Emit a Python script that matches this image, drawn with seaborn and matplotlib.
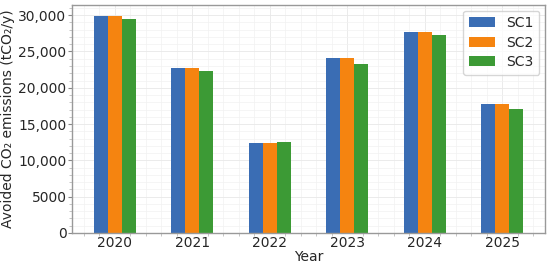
import pandas as pd
import matplotlib
matplotlib.use("Agg")
import matplotlib.pyplot as plt
import seaborn as sns
from matplotlib.ticker import AutoMinorLocator, MultipleLocator, FixedLocator

# values (tCO2/y)
years = ["2020", "2021", "2022", "2023", "2024", "2025"]
sc1 = [29900, 22700, 12430, 24040, 27700, 17700]
sc2 = [29900, 22700, 12430, 24040, 27700, 17700]
sc3 = [29490, 22250, 12570, 23210, 27200, 17020]
scenarios = ["SC1", "SC2", "SC3"]
colors = ["#3a6db4", "#f58410", "#3c9a35"]
ytick_values = [0, 5000, 10000, 15000, 20000, 25000, 30000]
ytick_labels = ["0", "5000", "10,000", "15,000", "20,000", "25,000", "30,000"]

rows = []
for name, vals in zip(scenarios, [sc1, sc2, sc3]):
    for y, v in zip(years, vals):
        rows.append({"Year": y, "Scenario": name, "Value": v})
df = pd.DataFrame(rows)

sns.set_style("whitegrid")
plt.rcParams['font.family'] = ['DejaVu Sans']

fig, ax = plt.subplots(figsize=(5.5, 2.66), dpi=100)
fig.subplots_adjust(left=72 / 550, right=545 / 550, top=1 - 5 / 266, bottom=1 - 233 / 266)

sns.barplot(data=df, x="Year", y="Value", hue="Scenario", palette=colors,
            width=0.54, gap=0, ax=ax, saturation=1, linewidth=0)

ax.set_xlim(-0.55, 5.55)
ax.set_ylim(0, 31400)
ax.yaxis.set_major_locator(FixedLocator(ytick_values))
ax.set_yticklabels(ytick_labels)
ax.xaxis.set_minor_locator(MultipleLocator(0.2))
ax.yaxis.set_minor_locator(AutoMinorLocator(5))
ax.grid(True, which="major", color="#e8e8e8", linewidth=0.6)
ax.grid(True, which="minor", color="#f2f2f2", linewidth=0.5)
ax.set_axisbelow(True)

ax.tick_params(axis="both", which="major", labelsize=10, length=3, color="#888888", pad=1)
ax.tick_params(axis="both", which="minor", length=2, color="#bbbbbb")
ax.tick_params(axis="x", which="major", length=0, pad=2)
ax.tick_params(left=True, bottom=True, which="both")

for s in ax.spines.values():
    s.set_color("#999999")
    s.set_linewidth(1.0)

ax.set_xlabel("Year", fontsize=10, labelpad=0)
ax.set_ylabel("Avoided CO\u2082 emissions (tCO\u2082/y)", fontsize=10, labelpad=2)

ax.legend(loc="upper right", fontsize=10, title=None, frameon=True,
          handlelength=1.9, borderaxespad=0.4, labelspacing=0.4)

fig.savefig("out.png", dpi=100)
